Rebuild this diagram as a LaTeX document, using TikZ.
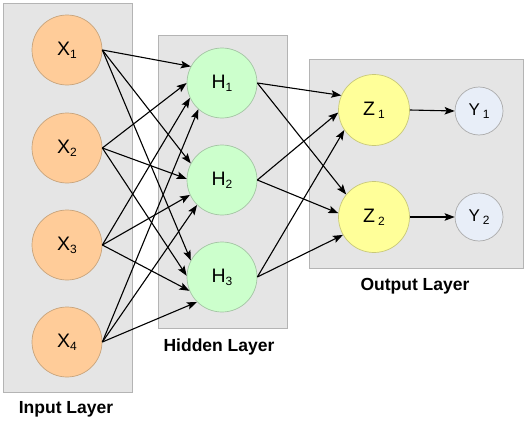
\documentclass[tikz,border=0pt]{standalone}
\usepackage{fontspec}
\setmainfont{Liberation Sans}
\usetikzlibrary{positioning,arrows.meta}

\definecolor{boxfill}{HTML}{E5E5E5}
\definecolor{boxline}{HTML}{B4B4B4}
\definecolor{infill}{HTML}{FFCC99}
\definecolor{inline}{HTML}{C8A47C}
\definecolor{hidfill}{HTML}{CCFFCC}
\definecolor{hidline}{HTML}{A4C4A4}
\definecolor{outfill}{HTML}{FFFF99}
\definecolor{outline}{HTML}{C8C878}
\definecolor{resfill}{HTML}{E8EEF8}
\definecolor{resline}{HTML}{ACACAC}

\newcommand{\subidx}[1]{\raisebox{-3pt}{\fontsize{12}{12}\selectfont #1}}

\begin{document}
\begin{tikzpicture}[x=1pt, y=-1pt,
  layerbox/.style={draw=boxline, fill=boxfill, line width=0.8pt},
  unit/.style={circle, inner sep=0pt, line width=0.7pt, font=\fontsize{19.5}{20}\selectfont},
  inunit/.style={unit, draw=inline, fill=infill, minimum size=70pt},
  hidunit/.style={unit, draw=hidline, fill=hidfill, minimum size=70pt},
  outunit/.style={unit, draw=outline, fill=outfill, minimum size=71pt},
  resunit/.style={unit, draw=resline, fill=resfill, minimum size=48pt, font=\fontsize{17}{18}\selectfont},
  laylabel/.style={font=\bfseries\fontsize{17.5}{18}\selectfont},
  link/.style={-{Stealth[length=10pt,width=7.5pt,inset=2pt]}, line width=1.1pt}]
  \useasboundingbox (0,0) rectangle (528,439);

  % layer boxes
  \draw[layerbox] (3,3) rectangle (132,392);
  \draw[layerbox] (158,35) rectangle (287,328);
  \draw[layerbox] (309,59) rectangle (523,268);

  \node[laylabel] (inlab) at (66,409) {Input Layer};
  \node[laylabel] (hidlab) at (219,347) {Hidden Layer};
  \node[laylabel] (outlab) at (415,286) {Output Layer};

  % units
  \node[inunit] (x1) at (67,50) {X\subidx{1}};
  \node[inunit] (x2) at (67,148) {X\subidx{2}};
  \node[inunit] (x3) at (67,245) {X\subidx{3}};
  \node[inunit] (x4) at (67,342) {X\subidx{4}};
  \node[hidunit] (h1) at (222,83) {H\subidx{1}};
  \node[hidunit] (h2) at (222,180) {H\subidx{2}};
  \node[hidunit] (h3) at (222,277) {H\subidx{3}};
  \node[outunit] (z1) at (374,110) {Z\,\subidx{1}};
  \node[outunit] (z2) at (374,217) {Z\,\subidx{2}};
  \node[resunit] (y1) at (479,111) {Y\,\subidx{1}};
  \node[resunit] (y2) at (479,217) {Y\,\subidx{2}};

  % input -> hidden
  \draw[link] (x1.east) -- (h1.152);
  \draw[link] (x1.east) -- (h2.152);
  \draw[link] (x1.east) -- (h3.152);
  \draw[link] (x2.east) -- (h1.180);
  \draw[link] (x2.east) -- (h2.178);
  \draw[link] (x2.east) -- (h3.178);
  \draw[link] (x3.east) -- (h1.205);
  \draw[link] (x3.east) -- (h2.205);
  \draw[link] (x3.east) -- (h3.203);
  \draw[link] (x4.east) -- (h1.228);
  \draw[link] (x4.east) -- (h2.225);
  \draw[link] (x4.east) -- (h3.225);

  % hidden -> output
  \draw[link] (h1.east) -- (z1.156);
  \draw[link] (h1.east) -- (z2.141);
  \draw[link] (h2.east) -- (z1.184);
  \draw[link] (h2.east) -- (z2.174);
  \draw[link] (h3.east) -- (z1.214);
  \draw[link] (h3.east) -- (z2.210);

  % output -> result
  \draw[link] (z1.east) -- (y1.west);
  \draw[link] (z2.east) -- (y2.west);
\end{tikzpicture}
\end{document}
